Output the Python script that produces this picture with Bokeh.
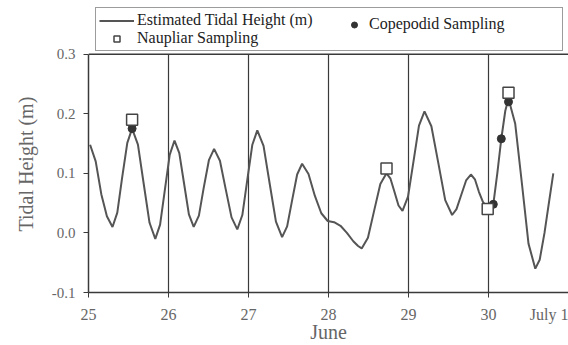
from bokeh.plotting import figure
from bokeh.models import Legend, LegendItem, FixedTicker, Range1d, LinearAxis, Span, Title
from bokeh.embed import file_html
from bokeh.resources import INLINE

# ---- data ----
tide_day = [25.02, 25.09, 25.16, 25.23, 25.30,
            25.36, 25.42, 25.485, 25.545,
            25.618, 25.69, 25.763, 25.835,
            25.895, 25.955, 26.015, 26.075,
            26.135, 26.195, 26.255, 26.315,
            26.38, 26.44, 26.505, 26.57,
            26.643, 26.715, 26.788, 26.86,
            26.923, 26.985, 27.048, 27.11,
            27.188, 27.265, 27.343, 27.42,
            27.483, 27.545, 27.608, 27.67,
            27.75, 27.83, 27.91, 27.99, 28.07, 28.15, 28.23, 28.31, 28.37, 28.415,
            28.493, 28.57, 28.648, 28.725,
            28.775, 28.825, 28.875, 28.925,
            28.994, 29.063, 29.131, 29.20,
            29.286, 29.373, 29.459, 29.545,
            29.60, 29.66, 29.72, 29.78,
            29.83, 29.88, 29.93, 29.98, 30.02,
            30.06, 30.11, 30.16, 30.21, 30.25,
            30.334, 30.418, 30.50, 30.585,
            30.64, 30.70, 30.76, 30.81]
tide_height = [0.148, 0.120, 0.065, 0.028, 0.010,
               0.034, 0.0925, 0.151, 0.175,
               0.148, 0.0825, 0.017, -0.010,
               0.014, 0.0725, 0.131, 0.155,
               0.134, 0.0825, 0.031, 0.010,
               0.029, 0.0755, 0.122, 0.141,
               0.121, 0.0735, 0.026, 0.006,
               0.030, 0.089, 0.148, 0.172,
               0.146, 0.0825, 0.019, -0.007,
               0.011, 0.0545, 0.098, 0.116,
               0.099, 0.062, 0.033, 0.020, 0.018, 0.012, 0.000, -0.014, -0.022, -0.026,
               -0.008, 0.037, 0.082, 0.100,
               0.091, 0.0685, 0.046, 0.037,
               0.061, 0.1205, 0.180, 0.204,
               0.179, 0.117, 0.055, 0.030,
               0.040, 0.064, 0.088, 0.098,
               0.090, 0.069, 0.052, 0.043, 0.042,
               0.048, 0.100, 0.158, 0.205, 0.225,
               0.183, 0.0825, -0.018, -0.060,
               -0.045, 0.000, 0.055, 0.100]

naup_day = [25.545, 28.725, 29.99, 30.25]
naup_height = [0.190, 0.108, 0.040, 0.235]

cope_day = [25.545, 30.06, 30.16, 30.25]
cope_height = [0.175, 0.048, 0.158, 0.220]

x_ticks = [25, 26, 27, 28, 29, 30, 31]
x_tick_labels = ["25", "26", "27", "28", "29", "30", "July 1"]
y_ticks = [-0.1, 0.0, 0.1, 0.2, 0.3]
y_tick_labels = ["-0.1", "0.0", "0.1", "0.2", "0.3"]

SERIF = "Liberation Serif"
DARK = "#3a3a3a"
LABEL_GREY = "#666666"

# layout: frame spans the whole canvas height above the axis; the area above
# y=0.3 holds the legend (the original's legend sits above the plot box)
FRAME_TOP_PAD = 0.09          # extra room above 0.3 for the legend
LAST_LABEL_SHIFT = 0.2        # "July 1" sits left of its day because it is at the edge

p = figure(width=568, height=345, output_backend="svg", toolbar_location=None,
           x_range=Range1d(x_ticks[0], x_ticks[-1]),
           y_range=Range1d(y_ticks[0], y_ticks[-1] + FRAME_TOP_PAD),
           min_border_left=87, min_border_right=0,
           min_border_top=0, min_border_bottom=51)

p.background_fill_color = "white"
p.border_fill_color = "white"
p.outline_line_color = None
p.xgrid.grid_line_color = None
p.ygrid.grid_line_color = None

# --- main x axis: line + tick marks only ---
xa = p.xaxis[0]
xa.ticker = FixedTicker(ticks=x_ticks[:-1])
xa.major_label_overrides = {t: "" for t in x_ticks[:-1]}
xa.major_label_text_font_size = "0px"
xa.major_label_standoff = 0
xa.axis_line_color = DARK
xa.axis_line_width = 1.5
xa.major_tick_line_color = DARK
xa.major_tick_out = 5
xa.major_tick_in = 0
xa.minor_tick_line_color = None

# --- label axis below: tick labels + "June" ---
label_pos = x_ticks[:-1] + [x_ticks[-1] - LAST_LABEL_SHIFT]
xl = LinearAxis(ticker=FixedTicker(ticks=label_pos),
                major_label_overrides={t: l for t, l in zip(label_pos, x_tick_labels)},
                axis_line_color=None, major_tick_line_color=None,
                minor_tick_line_color=None,
                major_label_text_font=SERIF, major_label_text_font_size="16px",
                major_label_text_color=LABEL_GREY, major_label_standoff=2,
                axis_label="June", axis_label_text_font=SERIF,
                axis_label_text_font_size="20px", axis_label_text_font_style="normal",
                axis_label_text_color=LABEL_GREY, axis_label_standoff=-5)
p.add_layout(xl, "below")

# --- y axis ---
ya = p.yaxis[0]
ya.ticker = FixedTicker(ticks=y_ticks)
ya.bounds = (y_ticks[0], y_ticks[-1])
ya.major_label_overrides = {t: l for t, l in zip(y_ticks, y_tick_labels)}
ya.axis_line_color = DARK
ya.axis_line_width = 1.5
ya.major_tick_line_color = DARK
ya.major_tick_out = 5
ya.major_tick_in = 0
ya.minor_tick_line_color = None
ya.major_label_text_font = SERIF
ya.major_label_text_font_size = "15px"
ya.major_label_text_color = LABEL_GREY
ya.major_label_standoff = 8

# y axis title, placed along the plot box (offset from the frame bottom)
p.add_layout(Title(text="Tidal Height (m)", align="left", offset=61,
                   standoff=24, text_font=SERIF, text_font_size="20px",
                   text_font_style="normal", text_color=LABEL_GREY), "left")

# top edge of the plot box
p.add_layout(Span(location=y_ticks[-1], dimension="width",
                  line_color=DARK, line_width=1.5))

# vertical day lines (grid) from the tick list, bounded to the plot box
grid_x = x_ticks[1:-1]
p.segment(x0=grid_x, y0=[y_ticks[0]] * len(grid_x),
          x1=grid_x, y1=[y_ticks[-1]] * len(grid_x),
          line_color=DARK, line_width=1.2)

# data
line_r = p.line(tide_day, tide_height, line_color="#555555", line_width=2)
circ_r = p.scatter(cope_day, cope_height, marker="circle", size=8,
                   fill_color="#333333", line_color="#333333")
sq_r = p.scatter(naup_day, naup_height, marker="square", size=11,
                 fill_color="white", line_color="#444444", line_width=1.5)

# legend (box with two left items) + second legend for the right item
leg_a = Legend(items=[LegendItem(label="Estimated Tidal Height (m)", renderers=[line_r]),
                      LegendItem(label="Naupliar Sampling", renderers=[sq_r])],
               location=(7, 241), orientation="vertical",
               padding=3, spacing=0, glyph_width=35, glyph_height=15,
               label_height=15, label_width=422, label_standoff=3,
               label_text_font=SERIF, label_text_font_size="16px",
               label_text_color="#222222",
               border_line_color=DARK, border_line_width=1.2,
               background_fill_color="white", background_fill_alpha=1.0)
leg_b = Legend(items=[LegendItem(label="Copepodid Sampling", renderers=[circ_r])],
               location=(254, 259), orientation="vertical",
               padding=3, spacing=0, glyph_width=24, glyph_height=15,
               label_height=15, label_standoff=3,
               label_text_font=SERIF, label_text_font_size="16px",
               label_text_color="#222222",
               border_line_color=None, background_fill_alpha=0.0)
p.add_layout(leg_a, "center")
p.add_layout(leg_b, "center")

open("out.html", "w").write(file_html(p, INLINE))
